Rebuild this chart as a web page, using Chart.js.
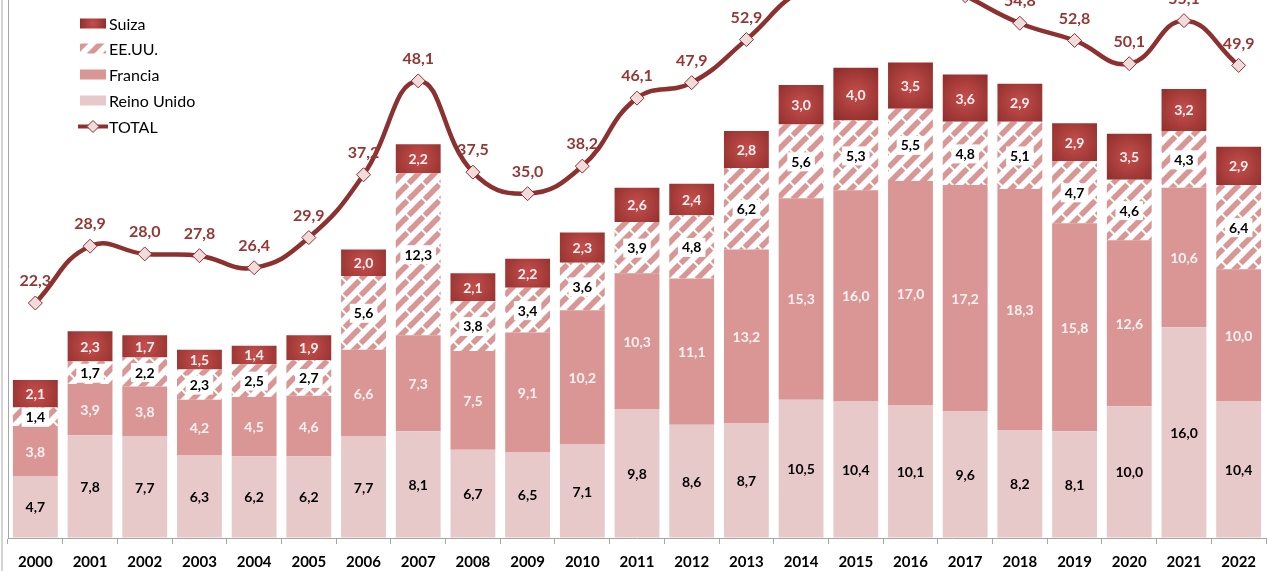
<!DOCTYPE html>
<html lang="es">
<head>
<meta charset="utf-8">
<script src="https://cdn.jsdelivr.net/npm/chart.js@4.4.0/dist/chart.umd.min.js"></script>
<style>
html, body { margin: 0; padding: 0; background: #fff; }
#wrap { position: relative; width: 1276px; height: 571px; }
</style>
</head>
<body>
<div id="wrap"><canvas id="chart"></canvas></div>
<script>
// años y series (millones)
const years = ['2000', '2001', '2002', '2003', '2004', '2005', '2006', '2007', '2008', '2009', '2010', '2011',
    '2012', '2013', '2014', '2015', '2016', '2017', '2018', '2019', '2020', '2021', '2022']

const reinoUnido = [4.7, 7.8, 7.7, 6.3, 6.2, 6.2, 7.7, 8.1, 6.7, 6.5, 7.1, 9.8, 8.6, 8.7, 10.5, 10.4, 10.1, 9.6, 8.2, 8.1, 10.0, 16.0, 10.4]
const francia = [3.8, 3.9, 3.8, 4.2, 4.5, 4.6, 6.6, 7.3, 7.5, 9.1, 10.2, 10.3, 11.1, 13.2, 15.3, 16.0, 17.0, 17.2, 18.3, 15.8, 12.6, 10.6, 10.0]
const eeuu = [1.4, 1.7, 2.2, 2.3, 2.5, 2.7, 5.6, 12.3, 3.8, 3.4, 3.6, 3.9, 4.8, 6.2, 5.6, 5.3, 5.5, 4.8, 5.1, 4.7, 4.6, 4.3, 6.4]
const suiza = [2.1, 2.3, 1.7, 1.5, 1.4, 1.9, 2.0, 2.2, 2.1, 2.2, 2.3, 2.6, 2.4, 2.8, 3.0, 4.0, 3.5, 3.6, 2.9, 2.9, 3.5, 3.2, 2.9]
const total = [22.3, 28.9, 28.0, 27.8, 26.4, 29.9, 37.2, 48.1, 37.5, 35.0, 38.2, 46.1, 47.9, 52.9, 58.6, 60.5, 61.0, 58.0, 54.8, 52.8, 50.1, 55.1, 49.9]

const PINK_LIGHT = '#E7C9C9'
const PINK = '#DA9694'
const RED_DARK = '#8E2D2B'
const RED_MID = '#C54F4C'
const LINE_RED = '#8C3030'
const TOTAL_TEXT = '#953735'
const FONT = 'Lato, "Open Sans", sans-serif'

const fmt = v => v.toFixed(1).replace('.', ',')

// patrón rayado para EE.UU.
function makeHatch() {
    const p = document.createElement('canvas')
    p.width = 16
    p.height = 16
    const g = p.getContext('2d')
    g.fillStyle = '#fff'
    g.fillRect(0, 0, 16, 16)
    g.strokeStyle = PINK
    g.lineWidth = 5.5
    g.beginPath()
    g.moveTo(0, 16); g.lineTo(16, 0)
    g.moveTo(-4, 4); g.lineTo(4, -4)
    g.moveTo(12, 20); g.lineTo(20, 12)
    g.stroke()
    // cortes en las rayas
    g.strokeStyle = '#fff'
    g.lineWidth = 2
    g.beginPath()
    g.moveTo(4, 4); g.lineTo(12, 12)
    g.stroke()
    return g.createPattern(p, 'repeat')
}

function suizaGradient(g, cx, cy, r) {
    const grad = g.createRadialGradient(cx, cy, 0, cx, cy, r)
    grad.addColorStop(0, RED_MID)
    grad.addColorStop(1, RED_DARK)
    return grad
}

// degradado desde el centro de cada barra de Suiza
function suizaFill(c) {
    const chart = c.chart
    const x = chart.scales.x
    const y = chart.scales.y
    if (!x || !y || c.dataIndex === undefined) return RED_DARK
    const i = c.dataIndex
    const base = reinoUnido[i] + francia[i] + eeuu[i]
    const cx = x.getPixelForValue(i)
    const top = y.getPixelForValue(base + suiza[i])
    const bot = y.getPixelForValue(base)
    if (!isFinite(cx) || !isFinite(top) || !isFinite(bot)) return RED_DARK
    return suizaGradient(chart.ctx, cx, (top + bot) / 2, 32)
}

const canvas = document.getElementById('chart')
const hatch = makeHatch()

// etiquetas de valores
const valueLabels = {
    id: 'valueLabels',
    afterDatasetsDraw(chart) {
        const ctx = chart.ctx
        ctx.save()
        ctx.textAlign = 'center'
        ctx.textBaseline = 'middle'
        chart.data.datasets.forEach((ds, di) => {
            const meta = chart.getDatasetMeta(di)
            meta.data.forEach((el, i) => {
                const txt = fmt(ds.data[i])
                if (ds.type === 'line') {
                    ctx.font = 'bold 16px ' + FONT
                    ctx.fillStyle = TOTAL_TEXT
                    ctx.fillText(txt, el.x, el.y - 22)
                    return
                }
                const cy = (el.y + el.base) / 2
                ctx.font = 'bold 14px ' + FONT
                if (ds.labelBox) {
                    const w = ctx.measureText(txt).width + 8
                    ctx.fillStyle = '#fff'
                    ctx.fillRect(el.x - w / 2, cy - 9, w, 19)
                }
                ctx.fillStyle = ds.labelColor
                ctx.fillText(txt, el.x, cy + 1)
            })
        })
        ctx.restore()
    }
}

// leyenda vertical arriba a la izquierda y marco izquierdo
const sideLegend = {
    id: 'sideLegend',
    afterDraw(chart) {
        const ctx = chart.ctx
        ctx.save()
        ctx.fillStyle = '#D4D4D4'
        ctx.fillRect(1, 0, 2, chart.height)

        const x0 = 80
        const rows = [
            { text: 'Suiza', y: 23.5 },
            { text: 'EE.UU.', y: 48.5 },
            { text: 'Francia', y: 74.5 },
            { text: 'Reino Unido', y: 100.5 },
            { text: 'TOTAL', y: 126.5 }
        ]
        rows.forEach((r, k) => {
            if (k === 0) ctx.fillStyle = suizaGradient(ctx, x0 + 13, r.y, 14)
            if (k === 1) ctx.fillStyle = hatch
            if (k === 2) ctx.fillStyle = PINK
            if (k === 3) ctx.fillStyle = PINK_LIGHT
            if (k < 4) {
                ctx.fillRect(x0, r.y - 5, 26, 10)
            } else {
                ctx.strokeStyle = LINE_RED
                ctx.lineWidth = 4
                ctx.beginPath()
                ctx.moveTo(x0 - 2, r.y)
                ctx.lineTo(x0 + 28, r.y)
                ctx.stroke()
                ctx.fillStyle = '#F2DCDB'
                ctx.lineWidth = 1
                ctx.beginPath()
                ctx.moveTo(x0 + 13, r.y - 6)
                ctx.lineTo(x0 + 19, r.y)
                ctx.lineTo(x0 + 13, r.y + 6)
                ctx.lineTo(x0 + 7, r.y)
                ctx.closePath()
                ctx.fill()
                ctx.stroke()
            }
            ctx.fillStyle = '#000'
            ctx.font = '16px ' + FONT
            ctx.textAlign = 'left'
            ctx.textBaseline = 'middle'
            ctx.fillText(r.text, x0 + 29, r.y + 1)
        })
        ctx.restore()
    }
}

const chart = new Chart(canvas, {
    type: 'bar',
    data: {
        labels: years,
        datasets: [{
            type: 'line',
            label: 'TOTAL',
            data: total,
            yAxisID: 'y2',
            order: 0,
            borderColor: LINE_RED,
            borderWidth: 4.5,
            tension: 0.45,
            pointStyle: 'rectRot',
            pointRadius: 7,
            pointBackgroundColor: '#F2DCDB',
            pointBorderColor: LINE_RED,
            pointBorderWidth: 1
        }, {
            label: 'Reino Unido',
            data: reinoUnido,
            order: 1,
            backgroundColor: PINK_LIGHT,
            labelColor: '#000'
        }, {
            label: 'Francia',
            data: francia,
            order: 2,
            backgroundColor: PINK,
            labelColor: '#FFF2F2'
        }, {
            label: 'EE.UU.',
            data: eeuu,
            order: 3,
            backgroundColor: hatch,
            labelColor: '#000',
            labelBox: true
        }, {
            label: 'Suiza',
            data: suiza,
            order: 4,
            backgroundColor: suizaFill,
            labelColor: '#FFF2F2'
        }]
    },
    options: {
        responsive: true,
        maintainAspectRatio: false,
        animation: false,
        barPercentage: 0.82,
        categoryPercentage: 1,
        layout: { autoPadding: false, padding: { left: 8, right: 10, top: 0, bottom: 0 } },
        plugins: {
            legend: { display: false },
            tooltip: { enabled: false }
        },
        scales: {
            x: {
                stacked: true,
                afterFit(scale) { scale.height = 33 },
                grid: { offset: true, drawOnChartArea: false, tickLength: 6, color: '#A6A6A6' },
                border: { color: '#A6A6A6' },
                ticks: { color: '#000', padding: 9, font: { family: FONT, size: 15, weight: 'bold' } }
            },
            y: {
                stacked: true,
                min: 0,
                max: 40.85,
                ticks: { display: false },
                grid: { drawOnChartArea: false, drawTicks: false },
                border: { color: '#A6A6A6' }
            },
            y2: {
                display: false,
                min: -5,
                max: 57.5
            }
        }
    },
    plugins: [valueLabels, sideLegend]
})
</script>
</body>
</html>
